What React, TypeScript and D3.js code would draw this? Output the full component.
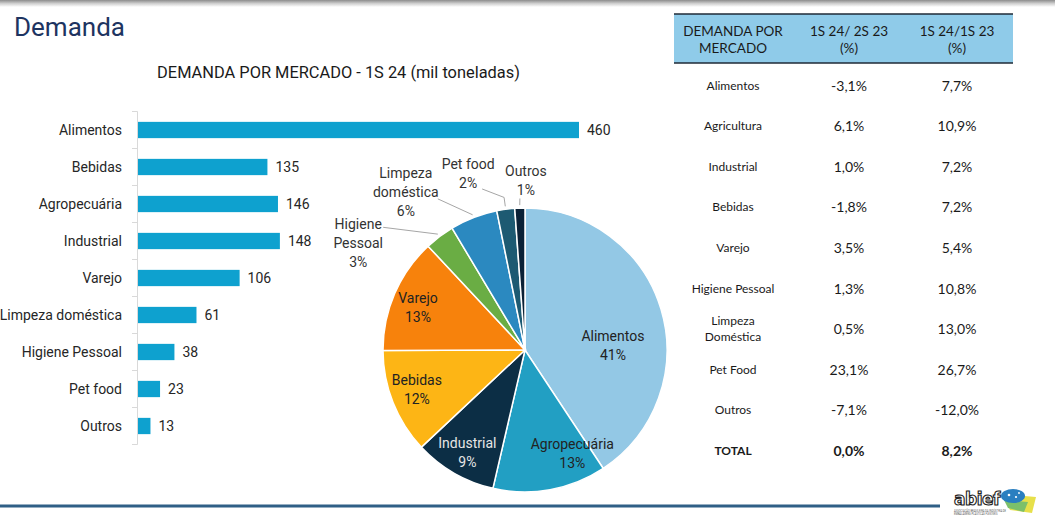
import React from "react";
import * as d3 from "d3";

const barCategories = ["Alimentos", "Bebidas", "Agropecuária", "Industrial", "Varejo", "Limpeza doméstica", "Higiene Pessoal", "Pet food", "Outros"];
const barValues = [460, 135, 146, 148, 106, 61, 38, 23, 13];

const pieCategories = ["Alimentos", "Agropecuária", "Industrial", "Bebidas", "Varejo", "Higiene Pessoal", "Limpeza doméstica", "Pet food", "Outros"];
const pieLabelLines = [["Alimentos"], ["Agropecuária"], ["Industrial"], ["Bebidas"], ["Varejo"], ["Higiene", "Pessoal"], ["Limpeza", "doméstica"], ["Pet food"], ["Outros"]];
const pieValues = [460, 146, 106, 135, 148, 38, 61, 23, 13];
const piePercents = ["41%", "13%", "9%", "12%", "13%", "3%", "6%", "2%", "1%"];
const pieColors = ["#93c8e5", "#229fc3", "#0c2e45", "#fdb515", "#f7820c", "#6aad44", "#2b89c0", "#1d5a72", "#0b2136"];
const pieTextColors = ["#222", "#222", "#e6e6e6", "#222", "#222", "#333", "#333", "#333", "#333"];

const tableMarkets = ["Alimentos", "Agricultura", "Industrial", "Bebidas", "Varejo", "Higiene Pessoal", "Limpeza Doméstica", "Pet Food", "Outros"];
const vs2S23 = [-3.1, 6.1, 1.0, -1.8, 3.5, 1.3, 0.5, 23.1, -7.1];
const vs1S23 = [7.7, 10.9, 7.2, 7.2, 5.4, 10.8, 13.0, 26.7, -12.0];
const totalVs2S23 = 0.0;
const totalVs1S23 = 8.2;

// label layout (not data): inside -> fraction along slice + radius factor; outside -> polar position of text
const pieLabelLayout: any[] = [
  { t: 0.592, rf: 0.62 },
  { t: 0.19, rf: 0.8 },
  { t: 0.48, rf: 0.83 },
  { t: 0.54, rf: 0.81 },
  { t: 0.46, rf: 0.81 },
  { outside: true, angle: 302.6, rad: 198, lead: [25, -16] },
  { outside: true, angle: 323, rad: 198, lead: [32, 7] },
  { outside: true, angle: 342.1, rad: 185, lead: [14, 15], elbow: true },
  { outside: true, angle: 0.3, rad: 169.5, lead: [-6, 18] },
];

const fmtPct = (v: number) => d3.format(".1f")(v).replace("−", "-").replace(".", ",") + "%";

const FONT = "Roboto, 'Noto Sans', sans-serif";
const TFONT = "Lato, 'Open Sans', sans-serif";

export default function App() {
  const W = 1055, H = 523;

  // bar chart
  const y = d3.scaleBand<string>().domain(barCategories).range([111.5, 444.5]).paddingInner(0.56).paddingOuter(0.28);
  const x = d3.scaleLinear().domain([0, 460]).range([138, 579]);
  const step = y.step();

  // pie
  const cx = 525, cy = 350, R = 142;
  const toRad = Math.PI / 180;
  const pieGen = d3.pie<number>().sort(null).value((d) => d);
  const arcs = pieGen(pieValues);
  const arcGen = d3.arc<d3.PieArcDatum<number>>().innerRadius(0).outerRadius(R);
  const polar = (a: number, r: number): [number, number] => [cx + r * Math.sin(a), cy - r * Math.cos(a)];

  // table
  const colX = [733, 849, 957];
  const rowY = d3.range(tableMarkets.length + 1).map((i) => 85 + i * 40.6);

  return (
    <svg width={W} height={H} style={{ position: "absolute", left: 0, top: 0, background: "#fff" }}>
      <defs>
        <linearGradient id="topShade" x1="0" y1="0" x2="0" y2="1">
          <stop offset="0" stopColor="#8c8c8c" />
          <stop offset="0.5" stopColor="#cfcfcf" />
          <stop offset="1" stopColor="#ffffff" />
        </linearGradient>
      </defs>
      <rect x={0} y={0} width={W} height={7} fill="url(#topShade)" />

      <text x={14} y={36} fontFamily={FONT} fontSize={26} fill="#1e3461">Demanda</text>
      <text x={338.5} y={78} textAnchor="middle" fontFamily={FONT} fontSize={16.4} fill="#1a1a1a">
        DEMANDA POR MERCADO - 1S 24 (mil toneladas)
      </text>

      {/* bar chart */}
      <g>
        <line x1={137.5} x2={137.5} y1={111.5} y2={444.5} stroke="#d9d9d9" />
        {d3.range(barCategories.length + 1).map((i) => (
          <line key={i} x1={132} x2={137.5} y1={111.5 + i * step} y2={111.5 + i * step} stroke="#d9d9d9" />
        ))}
        {barCategories.map((c, i) => {
          const yy = y(c)!;
          const bw = y.bandwidth();
          return (
            <g key={c}>
              <rect x={x(0)} y={yy} width={x(barValues[i]) - x(0)} height={bw} fill="#0ea1cf" />
              <text x={122} y={yy + bw / 2} textAnchor="end" dominantBaseline="central" fontFamily={FONT} fontSize={14} fill="#262626">{c}</text>
              <text x={x(barValues[i]) + 8} y={yy + bw / 2} dominantBaseline="central" fontFamily={FONT} fontSize={14} fill="#262626">{barValues[i]}</text>
            </g>
          );
        })}
      </g>

      {/* pie */}
      <g>
        {arcs.map((a, i) => (
          <path key={pieCategories[i]} d={arcGen(a)!} transform={`translate(${cx},${cy})`} fill={pieColors[i]} stroke="#fff" strokeWidth={1.5} />
        ))}
        {arcs.map((a, i) => {
          const L = pieLabelLayout[i];
          const lines = [...pieLabelLines[i], piePercents[i]];
          const lh = 19;
          if (!L.outside) {
            const ang = a.startAngle + (a.endAngle - a.startAngle) * L.t;
            const [tx, ty] = polar(ang, R * L.rf);
            return (
              <text key={i} textAnchor="middle" fontFamily={FONT} fontSize={14} fill={pieTextColors[i]}>
                {lines.map((l, j) => (
                  <tspan key={j} x={tx} y={ty + (j - (lines.length - 1) / 2) * lh} dominantBaseline="central">{l}</tspan>
                ))}
              </text>
            );
          }
          const [tx, ty] = polar(L.angle * toRad, L.rad);
          const mid = (a.startAngle + a.endAngle) / 2;
          const pts: [number, number][] = [[tx + L.lead[0], ty + L.lead[1]]];
          if (L.elbow) pts.push(polar(mid, R + 12));
          pts.push(polar(mid, R + 3));
          return (
            <g key={i}>
              <path d={d3.line()(pts)!} fill="none" stroke="#a6a6a6" strokeWidth={1} />
              <text textAnchor="middle" fontFamily={FONT} fontSize={14} fill={pieTextColors[i]}>
                {lines.map((l, j) => (
                  <tspan key={j} x={tx} y={ty + (j - (lines.length - 1) / 2) * lh} dominantBaseline="central">{l}</tspan>
                ))}
              </text>
            </g>
          );
        })}
      </g>

      {/* table */}
      <g fontFamily={TFONT} fill="#1a1a1a">
        <rect x={674} y={14} width={339} height={49} fill="#8fcbe9" />
        <line x1={674} x2={1013} y1={14} y2={14} stroke="#1f2a36" strokeWidth={1.5} />
        <line x1={674} x2={1013} y1={63} y2={63} stroke="#1f2a36" strokeWidth={1.5} />
        <text textAnchor="middle" fontSize={13.5}>
          <tspan x={colX[0]} y={31} dominantBaseline="central">DEMANDA POR</tspan>
          <tspan x={colX[0]} y={48} dominantBaseline="central">MERCADO</tspan>
        </text>
        <text textAnchor="middle" fontSize={13.5}>
          <tspan x={colX[1]} y={31} dominantBaseline="central">1S 24/ 2S 23</tspan>
          <tspan x={colX[1]} y={48} dominantBaseline="central">(%)</tspan>
        </text>
        <text textAnchor="middle" fontSize={13.5}>
          <tspan x={colX[2]} y={31} dominantBaseline="central">1S 24/1S 23</tspan>
          <tspan x={colX[2]} y={48} dominantBaseline="central">(%)</tspan>
        </text>
        {tableMarkets.map((m, i) => {
          const yy = rowY[i];
          const parts = m === "Limpeza Doméstica" ? ["Limpeza", "Doméstica"] : [m];
          return (
            <g key={m}>
              <text textAnchor="middle" fontSize={12}>
                {parts.map((p, j) => (
                  <tspan key={j} x={colX[0]} y={yy + (j - (parts.length - 1) / 2) * 16} dominantBaseline="central">{p}</tspan>
                ))}
              </text>
              <text x={colX[1]} y={yy} textAnchor="middle" dominantBaseline="central" fontSize={14}>{fmtPct(vs2S23[i])}</text>
              <text x={colX[2]} y={yy} textAnchor="middle" dominantBaseline="central" fontSize={14}>{fmtPct(vs1S23[i])}</text>
            </g>
          );
        })}
        <text x={colX[0]} y={rowY[9]} textAnchor="middle" dominantBaseline="central" fontSize={12} fontWeight="bold">TOTAL</text>
        <text x={colX[1]} y={rowY[9]} textAnchor="middle" dominantBaseline="central" fontSize={14} fontWeight="bold">{fmtPct(totalVs2S23)}</text>
        <text x={colX[2]} y={rowY[9]} textAnchor="middle" dominantBaseline="central" fontSize={14} fontWeight="bold">{fmtPct(totalVs1S23)}</text>
      </g>

      {/* footer */}
      <line x1={0} x2={940} y1={506} y2={506} stroke="#2f5f86" strokeWidth={3} />
      <g>
        <text x={954} y={505} fontFamily="'DejaVu Sans', sans-serif" fontSize={17} fontWeight="bold" fill="#fff" stroke="#222" strokeWidth={1.1} letterSpacing={-0.5}>abief</text>
        <text x={954} y={512} fontFamily={FONT} fontSize={2.6} fill="#555">ASSOCIAÇÃO BRASILEIRA DA INDÚSTRIA DE</text>
        <text x={954} y={515} fontFamily={FONT} fontSize={2.6} fill="#555">EMBALAGENS PLÁSTICAS FLEXÍVEIS</text>
        <path d="M1002,494 L1036,497 L1032,513 L1010,510 Z" fill="#e7e04a" />
        <path d="M1004,500 L1028,502 L1024,512 L1008,508 Z" fill="#7cc06a" />
        <ellipse cx={1013} cy={496} rx={12} ry={7} fill="#2a7fc0" />
        <circle cx={1009} cy={495} r={1.3} fill="#fff" />
        <circle cx={1016} cy={497} r={1.1} fill="#fff" />
        <circle cx={1019} cy={493} r={0.9} fill="#fff" />
      </g>
    </svg>
  );
}
